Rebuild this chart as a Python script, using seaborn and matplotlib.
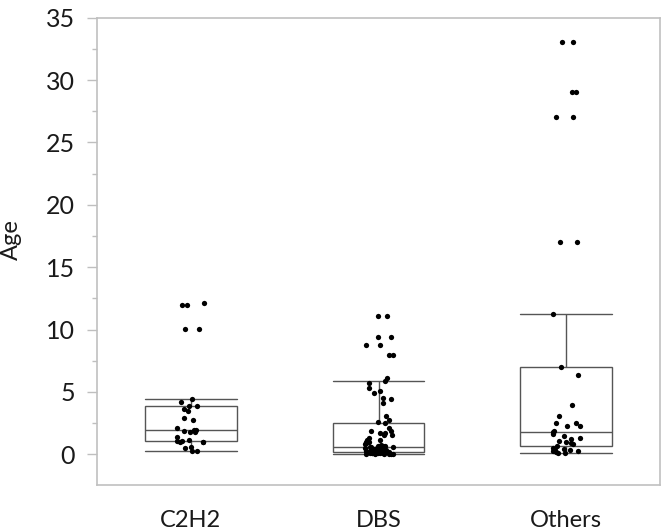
import numpy as np
import pandas as pd
import matplotlib
matplotlib.use("Agg")
import matplotlib.pyplot as plt
import seaborn as sns
from matplotlib.ticker import MultipleLocator

categories = ["C2H2", "DBS", "Others"]

c2h2_age = [0.24, 0.29, 0.48, 0.55, 1.0, 1.0, 1.02, 1.04, 1.04, 1.15, 1.36, 1.8, 1.8,
            1.9, 1.95, 1.95, 2.08, 2.75, 2.9, 3.47, 3.6, 3.87, 3.87, 4.2, 4.41,
            10.05, 10.05, 12.0, 12.0, 12.1]

dbs_age = [0.0, 0.02, 0.03, 0.04, 0.05, 0.05, 0.07, 0.08, 0.1, 0.1, 0.12, 0.13, 0.13,
           0.13, 0.15, 0.17, 0.18, 0.19, 0.2, 0.2, 0.21,
           0.23, 0.25, 0.27, 0.29, 0.29, 0.3, 0.33, 0.36, 0.4, 0.4, 0.4, 0.4, 0.42,
           0.46, 0.5, 0.52, 0.56, 0.56, 0.58, 0.61,
           0.67, 0.67, 0.67, 0.75, 0.8, 0.88, 0.99, 0.99, 1.0, 1.17, 1.17, 1.33,
           1.55, 1.55, 1.73, 1.73, 1.87, 1.87, 2.13, 2.48,
           2.6, 2.75, 3.07, 4.09, 4.4, 4.5, 4.94, 5.1, 5.3, 5.7, 5.85, 6.15,
           8.0, 8.0, 8.8, 8.8, 9.4, 9.4, 11.1, 11.1]

others_age = [0.08, 0.13, 0.2, 0.25, 0.3, 0.34, 0.34, 0.4, 0.5, 0.69,
              0.8, 0.9, 1.01, 1.1, 1.2, 1.33, 1.47, 1.6, 1.79,
              1.9, 2.3, 2.3, 2.54, 2.54, 3.07, 3.95, 6.36, 7.0,
              11.23, 17.05, 17.05, 27.02, 27.02, 29.03, 29.03, 33.04, 33.04]

y_ticks = [0, 5, 10, 15, 20, 25, 30, 35]

df = pd.DataFrame({
    "Group": ["C2H2"] * len(c2h2_age) + ["DBS"] * len(dbs_age) + ["Others"] * len(others_age),
    "Age": c2h2_age + dbs_age + others_age,
})

sns.set_style("white")
plt.rcParams["font.family"] = ["Lato", "DejaVu Sans"]

fig = plt.figure(figsize=(6.66, 5.31), dpi=100)
ax = fig.add_axes([97 / 666, 1 - 485 / 531, (660 - 97) / 666, (485 - 17.7) / 531])

box_color = "#555555"
sns.boxplot(data=df, x="Group", y="Age", order=categories, ax=ax,
            width=0.49, color="white", linecolor=box_color, linewidth=1.0,
            showfliers=False, capwidths=0.49, whis=1.5)

np.random.seed(3)
sns.stripplot(data=df, x="Group", y="Age", order=categories, ax=ax,
              color="black", size=3.8, jitter=0.08, zorder=5, linewidth=0)

ax.set_ylim(-2.46, 35)
ax.set_xlim(-0.5, 2.5)
ax.set_yticks(y_ticks)
ax.yaxis.set_minor_locator(MultipleLocator(2.5))
ax.tick_params(axis="y", which="major", length=7, width=1, color="#bfbfbf",
               labelsize=18, pad=9, left=True)
ax.tick_params(axis="y", which="minor", length=3.5, width=1, color="#bfbfbf", left=True)
ax.tick_params(axis="x", length=0, labelsize=17, pad=18)
for lab in ax.get_yticklabels() + ax.get_xticklabels():
    lab.set_color("#1a1a1a")

for s in ax.spines.values():
    s.set_color("#c0c0c0")
    s.set_linewidth(1.2)
    s.set_visible(True)

ax.set_xlabel("")
ax.set_ylabel("Age", fontsize=17, color="#1a1a1a")
ax.yaxis.set_label_coords(-0.133, 0.526)

fig.savefig("out.png", dpi=100)
